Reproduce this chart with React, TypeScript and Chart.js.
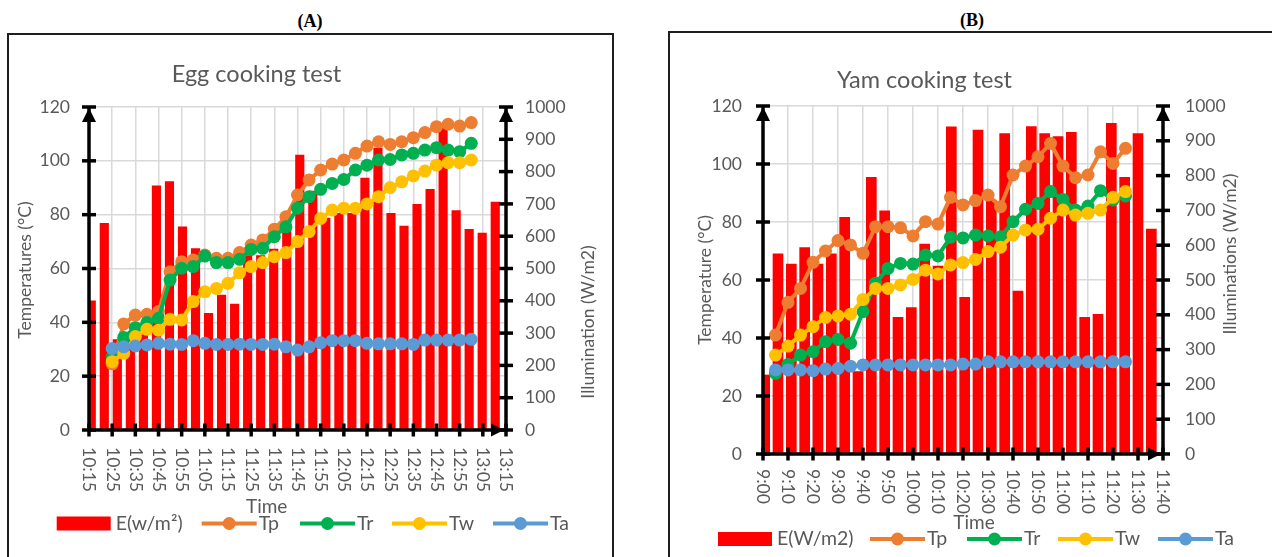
import React, { useEffect, useRef } from 'react';
import { Chart, registerables } from 'chart.js';

Chart.register(...registerables);

// ---------------- (A) Egg cooking test ----------------
const TIMES_A = ['10:15', '10:20', '10:25', '10:30', '10:35', '10:40', '10:45', '10:50', '10:55', '11:00', '11:05', '11:10', '11:15', '11:20', '11:25', '11:30', '11:35', '11:40', '11:45', '11:50', '11:55', '12:00', '12:05', '12:10', '12:15', '12:20', '12:25', '12:30', '12:35', '12:40', '12:45', '12:50', '12:55', '13:00', '13:05', '13:10', '13:15'];
const LINE_TIMES_A = TIMES_A.slice(2, 34);
const E_A = [400, 640, 280, 300, 300, 756, 769, 629, 562, 361, 418, 390, 540, 540, 560, 650, 851, 740, 656, 671, 671, 780, 873, 671, 631, 699, 745, 934, 679, 621, 610, 706];
const TP_A = [24.6, 39.4, 42.7, 43.0, 44.0, 58.8, 62.5, 63.2, 65.0, 63.8, 63.8, 65.9, 68.7, 70.6, 74.6, 79.2, 87.3, 92.9, 96.6, 98.8, 100.3, 102.8, 105.5, 107.1, 106.1, 107.1, 108.6, 110.5, 112.7, 113.6, 112.9, 114.2];
const TR_A = [27.0, 34.4, 38.0, 39.9, 41.5, 55.7, 60.1, 60.7, 64.6, 62.2, 62.2, 63.4, 67.1, 67.5, 71.8, 75.5, 82.4, 86.7, 89.4, 91.6, 93.1, 96.6, 98.4, 100.3, 100.5, 102.2, 102.8, 104.0, 104.9, 104.0, 103.4, 106.5];
const TW_A = [25.4, 28.5, 34.7, 37.4, 37.1, 41.1, 40.9, 47.7, 51.4, 52.6, 54.5, 58.4, 60.7, 62.2, 64.4, 65.9, 70.0, 73.7, 78.6, 81.7, 82.4, 82.4, 84.0, 86.7, 90.1, 92.2, 94.4, 96.2, 98.4, 99.3, 99.3, 100.3];
const TA_A = [30.3, 30.9, 31.2, 31.6, 32.2, 31.9, 31.8, 33.2, 32.2, 31.8, 31.8, 31.9, 31.8, 31.8, 31.9, 30.9, 29.7, 30.9, 32.4, 33.2, 33.2, 33.2, 32.2, 32.0, 32.0, 32.0, 31.8, 33.4, 33.4, 33.4, 33.4, 33.7];

// ---------------- (B) Yam cooking test ----------------
const TIMES_B = ['9:00', '9:05', '9:10', '9:15', '9:20', '9:25', '9:30', '9:35', '9:40', '9:45', '9:50', '9:55', '10:00', '10:05', '10:10', '10:15', '10:20', '10:25', '10:30', '10:35', '10:40', '10:45', '10:50', '10:55', '11:00', '11:05', '11:10', '11:15', '11:20', '11:25', '11:30', '11:35', '11:40'];
const LINE_TIMES_B = TIMES_B.slice(1, 30);
const E_B = [227, 575, 546, 593, 546, 575, 680, 237, 795, 699, 393, 421, 603, 540, 940, 450, 931, 730, 921, 468, 941, 921, 912, 924, 393, 401, 950, 795, 921, 646];
const TP_B = [41.0, 52.3, 57.1, 66.1, 70.0, 73.6, 72.1, 69.2, 78.4, 78.4, 78.0, 75.2, 80.1, 79.3, 88.5, 85.9, 87.4, 89.3, 85.3, 96.2, 99.3, 102.5, 107.1, 99.3, 95.3, 96.2, 104.2, 100.2, 105.4];
const TR_B = [27.8, 30.9, 34.1, 35.3, 38.7, 39.5, 38.2, 49.1, 58.9, 64.0, 65.7, 65.5, 68.6, 68.3, 74.7, 74.5, 75.5, 75.2, 74.9, 80.1, 84.4, 86.4, 90.5, 87.8, 84.1, 85.5, 90.8, 87.6, 89.0];
const TW_B = [34.1, 37.2, 41.0, 43.9, 47.1, 47.6, 48.2, 53.3, 57.1, 57.1, 58.3, 60.2, 63.4, 62.1, 65.2, 66.0, 67.1, 69.8, 71.3, 75.5, 77.2, 77.5, 81.3, 84.1, 82.4, 83.0, 84.1, 88.5, 90.5];
const TA_B = [29.0, 29.0, 29.0, 28.7, 29.3, 29.5, 30.3, 30.7, 30.7, 30.7, 30.7, 30.7, 30.7, 30.7, 30.7, 31.0, 31.0, 31.8, 31.8, 31.8, 31.8, 31.8, 31.8, 31.8, 31.8, 31.8, 31.8, 31.8, 31.8];

const TEMP_TICKS = { min: 0, max: 120, step: 20 };
const E_TICKS = { min: 0, max: 1000, step: 100 };

// ---------------- styles ----------------
const RED = '#FF0000';
const C_TP = '#ED7D31';
const C_TR = '#00B050';
const C_TW = '#FFC000';
const C_TA = '#5B9BD5';
const GRID = '#D9D9D9';
const TXT = '#595959';
const FONT = 'Lato, "Open Sans", sans-serif';

type Layout = {
  left: number; top: number; width: number; height: number;
  pad: { left: number; top: number; right: number; bottom: number };
  title: string; titleX: number; titleY: number;
  leftTitle: string; leftTitleX: number; leftTitleY: number;
  rightTitle: string; rightTitleX: number; rightTitleY: number;
  leftTickX: number; rightTickX: number; xLabelGap: number;
  timeX: number; timeY: number;
  legendE: string; legendXs: number[]; legendY: number;
  barW: number;
};

type Panel = {
  times: string[]; lineTimes: string[];
  E: number[]; Tp: number[]; Tr: number[]; Tw: number[]; Ta: number[];
  L: Layout;
};

const PANEL_A: Panel = {
  times: TIMES_A, lineTimes: LINE_TIMES_A, E: E_A, Tp: TP_A, Tr: TR_A, Tw: TW_A, Ta: TA_A,
  L: {
    left: 9, top: 35, width: 602, height: 522,
    pad: { left: 80, top: 72, right: 105, bottom: 127 },
    title: 'Egg cooking test', titleX: 247.5, titleY: 47,
    leftTitle: 'Temperatures (°C)', leftTitleX: 16, leftTitleY: 235,
    rightTitle: 'Illumination (W/m2)', rightTitleX: 579.5, rightTitleY: 287,
    leftTickX: 61, rightTickX: 516, xLabelGap: 17,
    timeX: 257.7, timeY: 472,
    legendE: 'E(w/m²)', legendXs: [47.7, 192.7, 291, 383, 484], legendY: 488.5,
    barW: 8.5,
  },
};

const PANEL_B: Panel = {
  times: TIMES_B, lineTimes: LINE_TIMES_B, E: E_B, Tp: TP_B, Tr: TR_B, Tw: TW_B, Ta: TA_B,
  L: {
    left: 670, top: 33, width: 602, height: 524,
    pad: { left: 93, top: 73, right: 109, bottom: 103 },
    title: 'Yam cooking test', titleX: 254.5, titleY: 55,
    leftTitle: 'Temperature (°C)', leftTitleX: 35, leftTitleY: 247,
    rightTitle: 'Illuminations (W/m2)', rightTitleX: 560, rightTitleY: 221,
    leftTickX: 72, rightTickX: 515, xLabelGap: 15,
    timeX: 304, timeY: 490,
    legendE: 'E(W/m2)', legendXs: [48, 200, 297, 388, 488], legendY: 506,
    barW: 10,
  },
};

function makeDecor(p: Panel) {
  const L = p.L;
  return {
    id: 'decor',
    afterDraw(chart: any) {
      const ctx: CanvasRenderingContext2D = chart.ctx;
      const { left, right, top, bottom } = chart.chartArea;
      const xs = chart.scales.x;
      const ys = chart.scales.y;
      const y1 = chart.scales.y1;
      const seg = (a: number, b: number, c: number, d: number) => {
        ctx.beginPath(); ctx.moveTo(a, b); ctx.lineTo(c, d); ctx.stroke();
      };
      const tri = (pts: number[][]) => {
        ctx.beginPath(); ctx.moveTo(pts[0][0], pts[0][1]);
        for (let i = 1; i < pts.length; i++) ctx.lineTo(pts[i][0], pts[i][1]);
        ctx.closePath(); ctx.fill();
      };
      ctx.save();
      // ----- axes -----
      ctx.strokeStyle = '#000';
      ctx.fillStyle = '#000';
      ctx.lineWidth = 3.5;
      ctx.lineCap = 'butt';
      seg(left, bottom + 1.5, left, top);
      seg(left, bottom, right, bottom);
      seg(right, bottom + 1.5, right, top);
      ys.ticks.forEach((t: any) => {
        const py = ys.getPixelForValue(t.value);
        seg(left - 7, py, left + 7, py);
      });
      y1.ticks.forEach((t: any) => {
        const py = y1.getPixelForValue(t.value);
        seg(right - 7, py, right + 7, py);
      });
      p.times.forEach((_lab, i) => {
        if (i % 2) return;
        const px = xs.getPixelForValue(i);
        seg(px, bottom - 6.5, px, bottom + 6.5);
      });
      tri([[left, top + 1], [left - 7, top + 15], [left + 7, top + 15]]);
      tri([[right, top + 1], [right - 7, top + 15], [right + 7, top + 15]]);
      tri([[right - 2, bottom], [right - 15, bottom - 6.5], [right - 15, bottom + 6.5]]);

      // ----- texts -----
      ctx.fillStyle = TXT;
      ctx.font = `17.5px ${FONT}`;
      ctx.textBaseline = 'middle';
      ctx.textAlign = 'right';
      ys.ticks.forEach((t: any) => ctx.fillText(String(t.value), L.leftTickX, ys.getPixelForValue(t.value)));
      ctx.textAlign = 'left';
      y1.ticks.forEach((t: any) => ctx.fillText(String(t.value), L.rightTickX, y1.getPixelForValue(t.value)));
      p.times.forEach((lab, i) => {
        if (i % 2) return;
        const px = xs.getPixelForValue(i);
        ctx.save();
        ctx.translate(px, bottom + L.xLabelGap);
        ctx.rotate(Math.PI / 2);
        ctx.textAlign = 'left';
        ctx.fillText(lab, 0, 0);
        ctx.restore();
      });
      // chart title
      ctx.font = `23.5px ${FONT}`;
      ctx.textAlign = 'center';
      ctx.textBaseline = 'alphabetic';
      ctx.fillText(L.title, L.titleX, L.titleY);
      // axis titles
      ctx.font = `17.5px ${FONT}`;
      ctx.textBaseline = 'middle';
      ctx.save();
      ctx.translate(L.leftTitleX, L.leftTitleY);
      ctx.rotate(-Math.PI / 2);
      ctx.fillText(L.leftTitle, 0, 0);
      ctx.restore();
      ctx.save();
      ctx.translate(L.rightTitleX, L.rightTitleY);
      ctx.rotate(-Math.PI / 2);
      ctx.fillText(L.rightTitle, 0, 0);
      ctx.restore();
      ctx.font = `19px ${FONT}`;
      ctx.fillText('Time', L.timeX, L.timeY);

      // ----- legend -----
      const ds = chart.data.datasets;
      const cy = L.legendY;
      ctx.textAlign = 'left';
      ctx.font = `19.5px ${FONT}`;
      ds.forEach((d: any, k: number) => {
        const sx = L.legendXs[k];
        if (k === 0) {
          ctx.fillStyle = d.backgroundColor;
          ctx.fillRect(sx, cy - 7, 54, 14);
          ctx.fillStyle = TXT;
          ctx.fillText(d.label, sx + 59, cy);
        } else {
          ctx.strokeStyle = d.borderColor;
          ctx.lineWidth = 4;
          seg(sx, cy, sx + 55, cy);
          ctx.fillStyle = d.borderColor;
          ctx.beginPath();
          ctx.arc(sx + 27.5, cy, 6.5, 0, Math.PI * 2);
          ctx.fill();
          ctx.fillStyle = TXT;
          ctx.fillText(d.label, sx + 57, cy);
        }
      });
      ctx.restore();
    },
  };
}

function lineDs(label: string, times: string[], vals: number[], color: string, order: number) {
  return {
    type: 'line' as const,
    label,
    data: vals.map((v, i) => ({ x: times[i], y: v })),
    xAxisID: 'x',
    yAxisID: 'y',
    borderColor: color,
    backgroundColor: color,
    borderWidth: 4,
    pointRadius: 6.5,
    pointHoverRadius: 6.5,
    pointBorderWidth: 0,
    pointBackgroundColor: color,
    tension: 0,
    order,
  };
}

function ChartPanel({ p }: { p: Panel }) {
  const ref = useRef<HTMLCanvasElement | null>(null);
  useEffect(() => {
    if (!ref.current) return;
    const L = p.L;
    const barSlots = p.E.map((_v, i) => `s${i + 1}`);
    const chart = new Chart(ref.current, {
      type: 'bar',
      data: {
        datasets: [
          {
            type: 'bar',
            label: L.legendE,
            data: p.E,
            xAxisID: 'x2',
            yAxisID: 'y1',
            backgroundColor: RED,
            borderWidth: 0,
            barThickness: L.barW,
            order: 5,
          } as any,
          lineDs('Tp', p.lineTimes, p.Tp, C_TP, 4),
          lineDs('Tr', p.lineTimes, p.Tr, C_TR, 3),
          lineDs('Tw', p.lineTimes, p.Tw, C_TW, 2),
          lineDs('Ta', p.lineTimes, p.Ta, C_TA, 1),
        ],
      },
      options: {
        responsive: false,
        animation: false,
        devicePixelRatio: 1,
        events: [],
        layout: { padding: L.pad },
        plugins: { legend: { display: false }, tooltip: { enabled: false } },
        scales: {
          x: {
            type: 'category',
            labels: p.times,
            offset: false,
            ticks: { display: false },
            border: { display: false },
            grid: {
              offset: false,
              drawTicks: false,
              lineWidth: 1.5,
              color: (c: any) => (c.index % 2 === 0 ? GRID : 'rgba(0,0,0,0)'),
            },
          },
          x2: {
            type: 'category',
            labels: barSlots,
            offset: true,
            display: false,
            grid: { offset: true },
          },
          y: {
            type: 'linear',
            position: 'left',
            min: TEMP_TICKS.min,
            max: TEMP_TICKS.max,
            ticks: { stepSize: TEMP_TICKS.step, display: false },
            border: { display: false },
            grid: { color: GRID, lineWidth: 1.5, drawTicks: false },
          },
          y1: {
            type: 'linear',
            position: 'right',
            min: E_TICKS.min,
            max: E_TICKS.max,
            ticks: { stepSize: E_TICKS.step, display: false },
            border: { display: false },
            grid: { drawOnChartArea: false, drawTicks: false },
          },
        },
      } as any,
      plugins: [makeDecor(p)],
    });
    return () => chart.destroy();
  }, [p]);
  return (
    <canvas
      ref={ref}
      width={p.L.width}
      height={p.L.height}
      style={{ position: 'absolute', left: p.L.left, top: p.L.top, width: p.L.width, height: p.L.height }}
    />
  );
}

export default function App() {
  const head: React.CSSProperties = {
    position: 'absolute',
    width: 100,
    textAlign: 'center',
    font: 'bold 18px "Liberation Serif", "Times New Roman", serif',
    lineHeight: '18px',
    color: '#000',
  };
  return (
    <div style={{ position: 'fixed', inset: 0, overflow: 'hidden', background: '#fff' }}>
      <div style={{ ...head, left: 260, top: 12 }}>(A)</div>
      <div style={{ ...head, left: 922, top: 11 }}>(B)</div>
      <div style={{ position: 'absolute', left: 7, top: 33, width: 607, height: 600, border: '2px solid #1e1e1e', boxSizing: 'border-box' }} />
      <div style={{ position: 'absolute', left: 668, top: 31, width: 700, height: 600, border: '2px solid #1e1e1e', boxSizing: 'border-box' }} />
      <ChartPanel p={PANEL_A} />
      <ChartPanel p={PANEL_B} />
    </div>
  );
}
